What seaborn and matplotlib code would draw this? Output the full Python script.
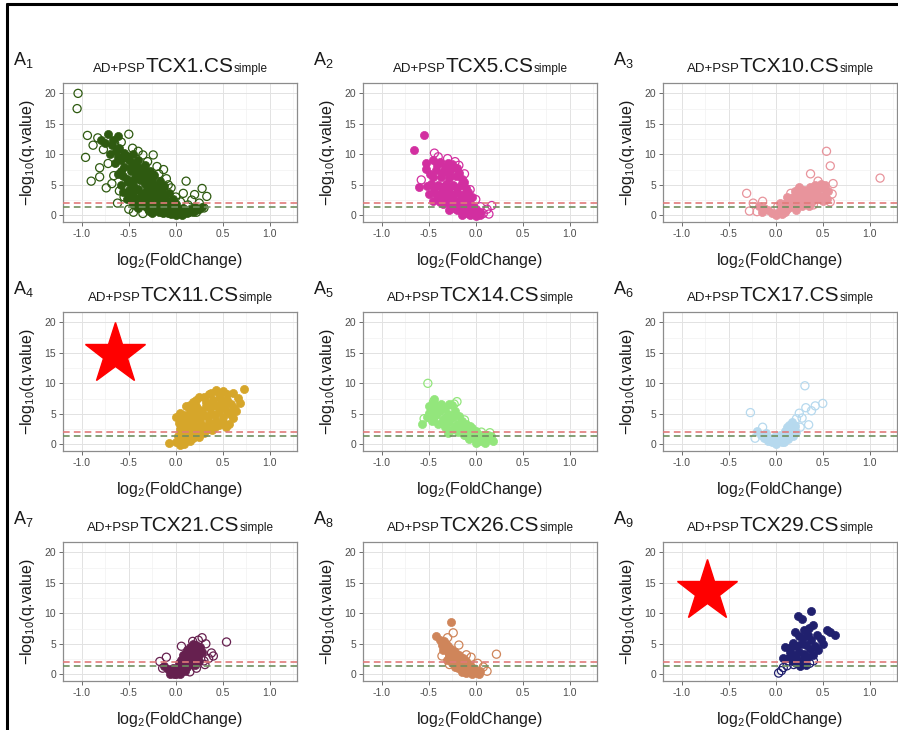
import matplotlib
matplotlib.use("Agg")

import matplotlib.pyplot as plt
from matplotlib.lines import Line2D
from matplotlib.offsetbox import TextArea, HPacker, AnnotationBbox
import seaborn as sns
import pandas as pd


#====================================================================================================
# points: (log2 fold change, -log10 q value)

a1_solid = [(-0.72, 13.4), (-0.62, 13.0), (-0.80, 12.3), (-0.68, 11.5), (-0.60, 11.0), (-0.55, 10.2),
            (-0.62, 9.5), (-0.50, 9.0), (-0.45, 8.5), (-0.55, 8.0), (-0.40, 8.0), (-0.48, 7.2),
            (-0.35, 7.5), (-0.42, 6.5), (-0.30, 6.8), (-0.52, 6.0), (-0.38, 5.8), (-0.25, 6.0),
            (-0.45, 5.0), (-0.33, 5.2), (-0.20, 5.0), (-0.50, 4.2), (-0.40, 4.3), (-0.28, 4.5),
            (-0.15, 4.2), (-0.47, 3.4), (-0.36, 3.5), (-0.24, 3.6), (-0.12, 3.2), (-0.52, 2.6),
            (-0.42, 2.7), (-0.31, 2.8), (-0.19, 2.7), (-0.08, 2.4), (-0.46, 1.9), (-0.36, 2.0),
            (-0.26, 1.9), (-0.15, 1.8), (-0.05, 1.6), (-0.40, 1.2), (-0.30, 1.1), (-0.20, 1.0),
            (-0.10, 0.9), (-0.02, 0.8), (-0.25, 0.4), (-0.14, 0.3), (-0.05, 0.2), (0.00, 0.1),
            (0.05, 0.4), (0.10, 0.7), (0.15, 1.0), (0.20, 1.3), (0.08, 1.2), (0.12, 0.3),
            (0.18, 0.6), (0.25, 1.0), (-0.32, 4.0), (-0.22, 3.0), (-0.28, 2.4), (-0.18, 2.2),
            (-0.10, 1.4), (-0.35, 6.3), (-0.30, 5.6), (-0.25, 5.2), (-0.20, 4.2), (-0.42, 7.3),
            (-0.38, 6.8), (-0.58, 7.2), (-0.65, 8.6), (-0.70, 10.0),
            (-0.58, 5.0), (-0.56, 3.8), (-0.50, 3.0), (-0.44, 4.0), (-0.44, 6.0), (-0.38, 3.0),
            (-0.34, 2.2), (-0.30, 3.3), (-0.27, 3.9), (-0.23, 4.6), (-0.17, 3.6), (-0.13, 2.5),
            (-0.22, 1.5), (-0.33, 1.6), (-0.42, 1.6), (-0.12, 2.0), (-0.06, 1.1), (-0.08, 0.4),
            (-0.18, 0.6), (-0.29, 0.7), (0.03, 0.9), (0.07, 0.1), (0.14, 0.5), (0.21, 0.9),
            (0.28, 1.4), (-0.48, 8.0), (-0.52, 9.8), (-0.58, 9.0), (-0.64, 10.5), (-0.67, 12.3),
            (-0.75, 11.8), (-0.46, 10.0), (-0.40, 9.0), (-0.33, 8.3), (-0.27, 7.2), (-0.23, 6.6),
            (-0.17, 5.6), (-0.12, 4.8), (-0.07, 3.6), (-0.03, 2.6), (0.00, 1.8), (-0.62, 6.8),
            (-0.56, 6.4), (-0.51, 5.4)]
a1_open = [(-1.04, 20.0), (-1.05, 17.5), (-0.94, 13.1), (-0.96, 9.5), (-0.83, 12.7), (-0.50, 13.3),
           (-0.81, 7.8), (-0.90, 5.6), (-0.74, 4.5), (-0.81, 6.3), (-0.35, 9.9), (-0.24, 9.9),
           (-0.13, 7.5), (0.11, 5.6), (0.28, 4.4), (0.33, 3.1), (0.20, 3.4), (0.08, 3.6),
           (0.13, 1.7), (-0.66, 6.5), (-0.72, 8.5), (-0.58, 12.0), (-0.46, 11.0), (-0.40, 10.5),
           (-0.30, 8.8), (-0.20, 8.0), (-0.10, 6.0), (-0.05, 4.5), (0.00, 3.0), (0.05, 2.2),
           (0.25, 2.0), (0.30, 1.2), (0.22, 0.5), (-0.60, 4.0), (-0.55, 3.0), (-0.62, 2.0),
           (-0.50, 1.0), (-0.45, 0.5), (-0.35, 0.3), (-0.68, 5.2), (-0.88, 11.5), (-0.77, 10.8),
           (-0.18, 6.8), (-0.08, 5.0), (0.17, 2.5), (-0.65, 11.8), (-0.53, 9.5)]

a2_solid = [(-0.55, 13.1), (-0.66, 10.7), (-0.53, 8.5), (-0.53, 7.6), (-0.60, 4.6), (-0.52, 4.8),
            (-0.45, 9.0), (-0.38, 8.8), (-0.30, 8.5), (-0.42, 7.5), (-0.34, 7.3), (-0.26, 7.6),
            (-0.20, 7.8), (-0.45, 6.2), (-0.37, 6.3), (-0.29, 6.1), (-0.21, 6.4), (-0.15, 6.0),
            (-0.48, 5.2), (-0.40, 5.0), (-0.32, 5.2), (-0.24, 5.0), (-0.16, 4.9), (-0.10, 4.5),
            (-0.44, 3.8), (-0.36, 4.0), (-0.28, 3.9), (-0.20, 3.8), (-0.12, 3.5), (-0.40, 2.8),
            (-0.32, 2.8), (-0.24, 2.7), (-0.16, 2.6), (-0.08, 2.6), (-0.35, 1.8), (-0.27, 1.8),
            (-0.19, 1.7), (-0.11, 1.6), (-0.03, 1.6), (-0.28, 0.8), (-0.20, 0.8), (-0.12, 0.7),
            (-0.04, 0.7), (0.02, 0.4), (-0.15, 0.1), (-0.06, 0.1), (0.00, -0.1), (0.05, 0.6),
            (-0.50, 3.5), (-0.35, 3.3),
            (-0.49, 6.8), (-0.41, 8.2), (-0.33, 8.0), (-0.25, 8.4), (-0.36, 6.9), (-0.28, 6.9),
            (-0.18, 7.0), (-0.13, 5.5), (-0.08, 3.9), (-0.04, 3.0), (-0.44, 4.4), (-0.36, 4.6),
            (-0.28, 4.5), (-0.20, 4.4), (-0.16, 3.2), (-0.24, 3.3), (-0.32, 3.6), (-0.41, 3.3),
            (-0.46, 2.4), (-0.38, 2.2), (-0.30, 2.2), (-0.22, 2.2), (-0.14, 2.1), (-0.06, 2.0),
            (-0.23, 1.2), (-0.15, 1.2), (-0.07, 1.2), (0.00, 1.0), (-0.10, 0.3), (-0.02, 0.3),
            (0.05, 0.0)]
a2_open = [(-0.44, 10.2), (-0.40, 9.6), (-0.30, 9.3), (-0.18, 8.2), (-0.12, 6.8), (-0.06, 4.2),
           (0.00, 2.6), (0.05, 1.4), (0.12, 1.0), (0.17, 1.6), (0.08, 0.3), (0.14, 0.2),
           (-0.58, 5.8), (-0.22, 8.8)]

a3_solid = [(-0.18, 1.6), (-0.12, 1.2), (-0.08, 0.8), (-0.04, 0.4), (0.00, 0.1), (0.03, 0.6),
            (0.06, 1.2), (0.10, 0.5), (0.09, 1.8), (0.13, 2.4), (0.15, 1.3), (0.18, 3.0),
            (0.20, 2.0), (0.22, 0.9), (0.24, 3.6), (0.26, 2.6), (0.28, 1.6), (0.30, 4.2),
            (0.32, 3.2), (0.34, 2.2), (0.36, 4.6), (0.38, 3.8), (0.40, 2.8), (0.42, 4.9),
            (0.44, 4.0), (0.46, 3.2), (0.48, 5.2), (0.50, 4.4), (0.52, 3.4), (0.55, 2.6),
            (0.56, 4.0), (0.12, 3.0), (0.05, 2.0), (0.20, 4.0), (0.35, 1.5), (0.25, 4.6),
            (0.07, 0.2), (0.16, 2.2), (0.22, 3.0), (0.28, 3.2), (0.34, 3.6), (0.40, 4.4),
            (0.46, 4.6), (0.52, 4.9), (0.30, 2.4), (0.44, 2.8), (0.50, 2.4), (0.38, 2.0),
            (-0.15, 0.5), (0.12, 1.0)]
a3_open = [(0.54, 10.5), (0.58, 8.1), (0.61, 5.2), (0.37, 6.8), (1.11, 6.1), (-0.31, 3.6),
           (-0.24, 2.0), (-0.28, 0.7), (-0.20, 0.6), (-0.14, 2.3), (0.45, 5.6), (0.58, 2.2),
           (0.60, 3.5), (0.40, 1.7), (0.16, 3.6), (0.02, 1.4)]

a4_solid = [(0.73, 9.0), (0.61, 8.4), (0.50, 8.7), (0.43, 8.9), (0.35, 8.2), (0.25, 7.8),
            (0.18, 7.0), (0.11, 6.2), (0.05, 5.2), (0.00, 4.5), (0.68, 6.8), (0.62, 6.0),
            (0.55, 7.2), (0.47, 7.6), (0.40, 7.3), (0.32, 6.9), (0.22, 6.3), (0.15, 5.5),
            (0.09, 4.8), (0.58, 5.0), (0.51, 6.1), (0.44, 6.3), (0.36, 5.9), (0.28, 5.5),
            (0.20, 5.0), (0.13, 4.2), (0.06, 3.6), (0.57, 3.4), (0.50, 4.5), (0.42, 4.8),
            (0.34, 4.4), (0.26, 4.1), (0.18, 3.6), (0.11, 3.0), (0.04, 2.5), (0.46, 3.2),
            (0.39, 2.3), (0.31, 2.9), (0.23, 2.6), (0.16, 2.2), (0.08, 1.8), (0.02, 1.4),
            (0.25, 1.2), (0.18, 1.0), (0.12, 0.8), (0.06, 0.5), (0.00, 0.3), (-0.07, 0.2),
            (0.04, -0.1), (0.30, 1.8), (0.53, 2.8), (0.64, 5.4), (0.09, 0.0),
            (0.03, 3.5), (0.07, 4.3), (0.15, 6.5), (0.22, 7.2), (0.30, 7.8), (0.38, 8.4),
            (0.46, 8.3), (0.55, 8.2), (0.66, 7.6), (0.59, 6.6), (0.48, 6.8), (0.40, 6.5),
            (0.32, 6.2), (0.24, 5.8), (0.17, 4.6), (0.10, 3.9), (0.61, 4.3), (0.54, 5.4),
            (0.46, 5.4), (0.38, 5.1), (0.30, 4.8), (0.22, 4.4), (0.14, 3.4), (0.50, 3.7),
            (0.43, 3.9), (0.35, 3.6), (0.27, 3.4), (0.20, 3.0), (0.13, 2.2), (0.06, 2.7),
            (0.42, 2.8), (0.35, 2.5), (0.27, 2.1), (0.20, 1.6), (0.10, 1.3), (0.03, 0.8),
            (0.15, 0.5)]
a4_open = []

a5_solid = [(-0.57, 3.4), (-0.52, 4.5), (-0.48, 5.8), (-0.46, 6.8), (-0.44, 7.4), (-0.40, 6.2),
            (-0.42, 4.8), (-0.47, 3.8), (-0.38, 5.4), (-0.35, 4.2), (-0.40, 3.3), (-0.33, 6.0),
            (-0.30, 5.0), (-0.28, 3.6), (-0.33, 2.8), (-0.25, 6.4), (-0.22, 5.4), (-0.24, 4.4),
            (-0.20, 3.4), (-0.26, 2.4), (-0.18, 4.6), (-0.15, 3.8), (-0.13, 2.8), (-0.19, 2.0),
            (-0.10, 3.3), (-0.08, 2.3), (-0.12, 1.5), (-0.04, 2.6), (-0.03, 1.6), (-0.07, 0.9),
            (0.00, 2.2), (0.02, 1.0), (0.00, 0.2), (0.05, 0.6), (0.08, 1.6), (0.12, 0.9),
            (0.16, 1.3), (0.18, 0.6), (0.10, 0.2), (-0.30, 1.8), (-0.36, 3.5), (-0.50, 6.3),
            (-0.50, 5.2), (-0.45, 4.2), (-0.43, 5.8), (-0.37, 6.6), (-0.29, 6.6), (-0.32, 4.4),
            (-0.27, 4.3), (-0.22, 2.8), (-0.16, 3.0), (-0.06, 3.0), (-0.01, 1.0), (0.04, 1.6),
            (0.13, 1.5), (-0.09, 1.4), (-0.15, 2.2)]
a5_open = [(-0.51, 10.0), (-0.23, 6.6), (-0.20, 7.0), (-0.55, 4.2), (-0.45, 7.0), (0.06, 2.0),
           (0.15, 1.9), (-0.12, 4.0)]

a6_solid = [(-0.20, 2.2), (-0.16, 1.5), (-0.12, 1.0), (-0.08, 0.6), (-0.04, 0.3), (0.00, 0.0),
            (0.03, 0.5), (0.06, 1.0), (0.08, 1.6), (0.10, 2.2), (0.12, 2.8), (0.14, 3.2),
            (0.16, 2.2), (0.18, 1.4), (0.20, 3.0), (0.13, 0.8), (0.04, 1.6), (-0.02, 1.2),
            (-0.10, 1.8), (0.09, 0.3), (0.17, 3.6), (0.22, 2.0),
            (0.15, 2.6), (0.11, 1.3), (0.07, 0.4), (0.19, 2.4), (-0.06, 0.9)]
a6_open = [(0.31, 9.6), (-0.27, 5.2), (0.50, 6.7), (0.25, 5.1), (0.32, 6.0), (0.38, 5.5),
           (0.28, 4.3), (0.22, 4.2), (-0.22, 1.0), (0.35, 3.2), (0.42, 6.3), (-0.14, 2.8),
           (0.26, 2.8)]

a7_solid = [(-0.12, 1.4), (-0.08, 0.8), (-0.05, 0.4), (-0.02, 0.1), (0.00, 0.0), (0.03, 0.3),
            (0.05, 0.8), (0.07, 1.4), (0.09, 2.0), (0.10, 0.6), (0.11, 2.7), (0.13, 1.6),
            (0.14, 3.4), (0.15, 4.4), (0.17, 2.6), (0.18, 4.9), (0.20, 3.6), (0.22, 4.8),
            (0.24, 3.0), (0.26, 4.4), (0.12, 4.0), (0.08, 3.2), (0.03, 1.8), (-0.03, 1.0),
            (0.20, 1.6), (0.28, 3.6),
            (0.02, 0.7), (0.06, 2.4), (0.10, 3.4), (0.13, 2.2), (0.16, 3.2), (0.19, 4.2),
            (0.21, 2.8), (0.23, 4.0), (0.25, 2.2), (0.17, 1.8), (0.12, 1.2), (-0.06, 0.0),
            (0.05, 0.1)]
a7_open = [(0.54, 5.3), (0.28, 6.0), (0.38, 3.5), (0.31, 1.6), (-0.10, 2.8), (-0.17, 2.1),
           (-0.14, 1.0), (0.32, 5.0), (0.24, 5.6), (0.35, 2.6), (0.40, 3.0), (0.18, 5.4),
           (0.30, 2.2), (0.06, 4.6), (0.22, 1.0), (0.15, 0.4)]

a8_solid = [(-0.26, 8.5), (-0.42, 6.2), (-0.38, 5.6), (-0.34, 5.4), (-0.30, 4.6), (-0.35, 4.0),
            (-0.26, 4.2), (-0.22, 3.6), (-0.28, 3.2), (-0.18, 3.2), (-0.24, 2.6), (-0.14, 2.6),
            (-0.20, 2.0), (-0.10, 2.2), (-0.16, 1.5), (-0.06, 1.6), (-0.12, 1.0), (-0.03, 1.0),
            (-0.08, 0.5), (0.00, 0.4), (-0.04, 0.1), (0.03, 0.0), (0.05, 0.5), (-0.15, 0.4),
            (-0.22, 1.2), (-0.31, 2.3),
            (-0.32, 5.0), (-0.28, 4.0), (-0.24, 3.5), (-0.20, 2.8), (-0.16, 2.3), (-0.12, 1.8),
            (-0.08, 1.2), (-0.04, 0.7), (-0.10, 0.2), (0.01, 0.2), (-0.19, 1.0), (-0.25, 1.8),
            (-0.36, 4.8)]
a8_open = [(-0.24, 6.8), (0.22, 3.3), (-0.30, 6.0), (-0.18, 4.8), (-0.10, 3.2), (-0.05, 2.8),
           (0.02, 1.8), (0.08, 1.2), (0.12, 0.5), (-0.36, 3.0), (-0.28, 1.6)]

a9_solid = [(0.37, 10.4), (0.24, 9.6), (0.28, 9.1), (0.40, 8.1), (0.54, 7.2), (0.58, 7.0),
            (0.63, 6.4), (0.10, 4.4), (0.08, 2.7), (0.20, 7.0), (0.25, 6.2), (0.30, 7.3),
            (0.34, 6.4), (0.44, 6.4), (0.48, 5.8), (0.38, 5.6), (0.18, 5.2), (0.22, 4.6),
            (0.27, 5.0), (0.32, 4.8), (0.36, 4.2), (0.42, 4.6), (0.15, 3.6), (0.20, 3.2),
            (0.25, 3.6), (0.30, 3.4), (0.34, 2.8), (0.40, 3.2), (0.13, 2.6), (0.18, 2.2),
            (0.23, 2.5), (0.28, 2.2), (0.32, 1.6), (0.26, 1.4), (0.45, 4.0), (0.50, 5.0),
            (0.16, 4.4), (0.29, 5.9), (0.35, 7.6), (0.21, 1.8)]
a9_open = [(0.03, 0.2), (0.06, 0.6), (0.08, 1.1), (0.14, 2.2), (0.12, 1.4), (0.19, 1.6),
           (0.24, 2.8), (0.31, 2.4), (0.36, 1.8), (0.40, 2.2)]

panel_tags   = ["1", "2", "3", "4", "5", "6", "7", "8", "9"]
panel_names  = ["TCX1", "TCX5", "TCX10", "TCX11", "TCX14", "TCX17", "TCX21", "TCX26", "TCX29"]
panel_colors = ["#2e5a10", "#d22fa0", "#e8949c", "#d6a62a", "#93e67c",
                "#b6d9ee", "#66204f", "#cf855a", "#20206e"]
panel_solid  = [a1_solid, a2_solid, a3_solid, a4_solid, a5_solid, a6_solid, a7_solid, a8_solid, a9_solid]
panel_open   = [a1_open, a2_open, a3_open, a4_open, a5_open, a6_open, a7_open, a8_open, a9_open]

# significance cut-offs, -log10(q)
q_lines  = [2.0, 1.3]
q_colors = ["#e07a7a", "#6f8f5f"]

x_ticks       = [-1.0, -0.5, 0.0, 0.5, 1.0]
x_tick_labels = ["-1.0", "-0.5", "0.0", "0.5", "1.0"]
y_ticks       = [0, 5, 10, 15, 20]
y_tick_labels = ["0", "5", "10", "15", "20"]

starred = {3: (0.222, 0.70), 8: (0.188, 0.645)}
#====================================================================================================


sns.set_style("whitegrid")
plt.rcParams['font.family'] = ['Liberation Sans', 'DejaVu Sans']
plt.rcParams['mathtext.default'] = 'regular'

W, H = 898, 730
fig = plt.figure(figsize=(W / 100, H / 100), dpi=100)
fig.patch.set_facecolor("white")

col_left = [63, 363, 663]
row_top  = [83, 312, 542]
ax_w, ax_h = 234, 139


def px_box(left, top, w, h):
    return [left / W, (H - top - h) / H, w / W, h / H]


for i in range(9):

    r, c = divmod(i, 3)
    ax = fig.add_axes(px_box(col_left[c], row_top[r], ax_w, ax_h))
    color = panel_colors[i]

    df_solid = pd.DataFrame(panel_solid[i], columns=["fc", "q"])
    sns.scatterplot(x="fc", y="q", data=df_solid, ax=ax, color=color, edgecolor=color,
                    s=34, linewidth=0.5, legend=False, zorder=3)

    if panel_open[i]:
        df_open = pd.DataFrame(panel_open[i], columns=["fc", "q"])
        sns.scatterplot(x="fc", y="q", data=df_open, ax=ax, color=color, facecolor="none",
                        edgecolor=color, s=34, linewidth=0.9, legend=False, zorder=3)

    for yv, lc in zip(q_lines, q_colors):
        ax.axhline(yv, color=lc, lw=1.2, dashes=(4, 2.5), zorder=4)

    ax.set_xlim(-1.2, 1.29)
    ax.set_ylim(-1.1, 21.7)

    ax.set_xticks(x_ticks)
    ax.set_xticklabels(x_tick_labels)
    ax.set_yticks(y_ticks)
    ax.set_yticklabels(y_tick_labels)
    ax.set_xticks([-0.75, -0.25, 0.25, 0.75, 1.25], minor=True)
    ax.set_yticks([2.5, 7.5, 12.5, 17.5], minor=True)

    ax.grid(which="major", color="#e2e2e2", lw=0.7)
    ax.grid(which="minor", color="#f1f1f1", lw=0.5)
    ax.set_axisbelow(True)

    ax.tick_params(which="major", bottom=True, left=True, length=3, width=0.6, color="#555555",
                   labelsize=7.5, labelcolor="#4d4d4d", pad=2)
    ax.tick_params(which="minor", length=0)

    for sp in ax.spines.values():
        sp.set_color("#8c8c8c")
        sp.set_linewidth(0.9)

    ax.set_xlabel("log$_2$(FoldChange)", fontsize=11.5, color="#1a1a1a")
    ax.set_ylabel("$-$log$_{10}$(q.value)", fontsize=11.5, color="#1a1a1a")
    ax.xaxis.set_label_coords(0.5, -0.21)
    ax.yaxis.set_label_coords(-0.11, 0.5)

    # title: small prefix, big name, small suffix
    parts = HPacker(children=[TextArea("AD+PSP", textprops=dict(fontsize=9.5, color="#1a1a1a")),
                              TextArea(panel_names[i] + ".CS", textprops=dict(fontsize=15, color="#1a1a1a")),
                              TextArea("simple", textprops=dict(fontsize=8.5, color="#1a1a1a"))],
                    align="baseline", pad=0, sep=0)
    ab = AnnotationBbox(parts, (0.5, 1.0), xycoords="axes fraction", box_alignment=(0.5, 0.0),
                        xybox=(0, 5), boxcoords="offset points", frameon=False, annotation_clip=False)
    ax.add_artist(ab)

    fig.text((col_left[c] - 50) / W, 1 - (row_top[r] - 18) / H, "A$_{" + panel_tags[i] + "}$",
             fontsize=13, color="#1a1a1a", va="baseline")

    if i in starred:
        sx, sy = starred[i]
        ax.plot(sx, sy, marker="*", ms=46, color="#ff0000", mec="#ff0000",
                transform=ax.transAxes, clip_on=False, zorder=6)


# black frame on the top and left edges
fig.add_artist(Line2D([6.5 / W, 6.5 / W], [0, 1 - 3.5 / H], color="black", lw=2.2))
fig.add_artist(Line2D([6.5 / W, 1], [1 - 3.5 / H, 1 - 3.5 / H], color="black", lw=2.2))

plt.savefig("out.png", dpi=100)
